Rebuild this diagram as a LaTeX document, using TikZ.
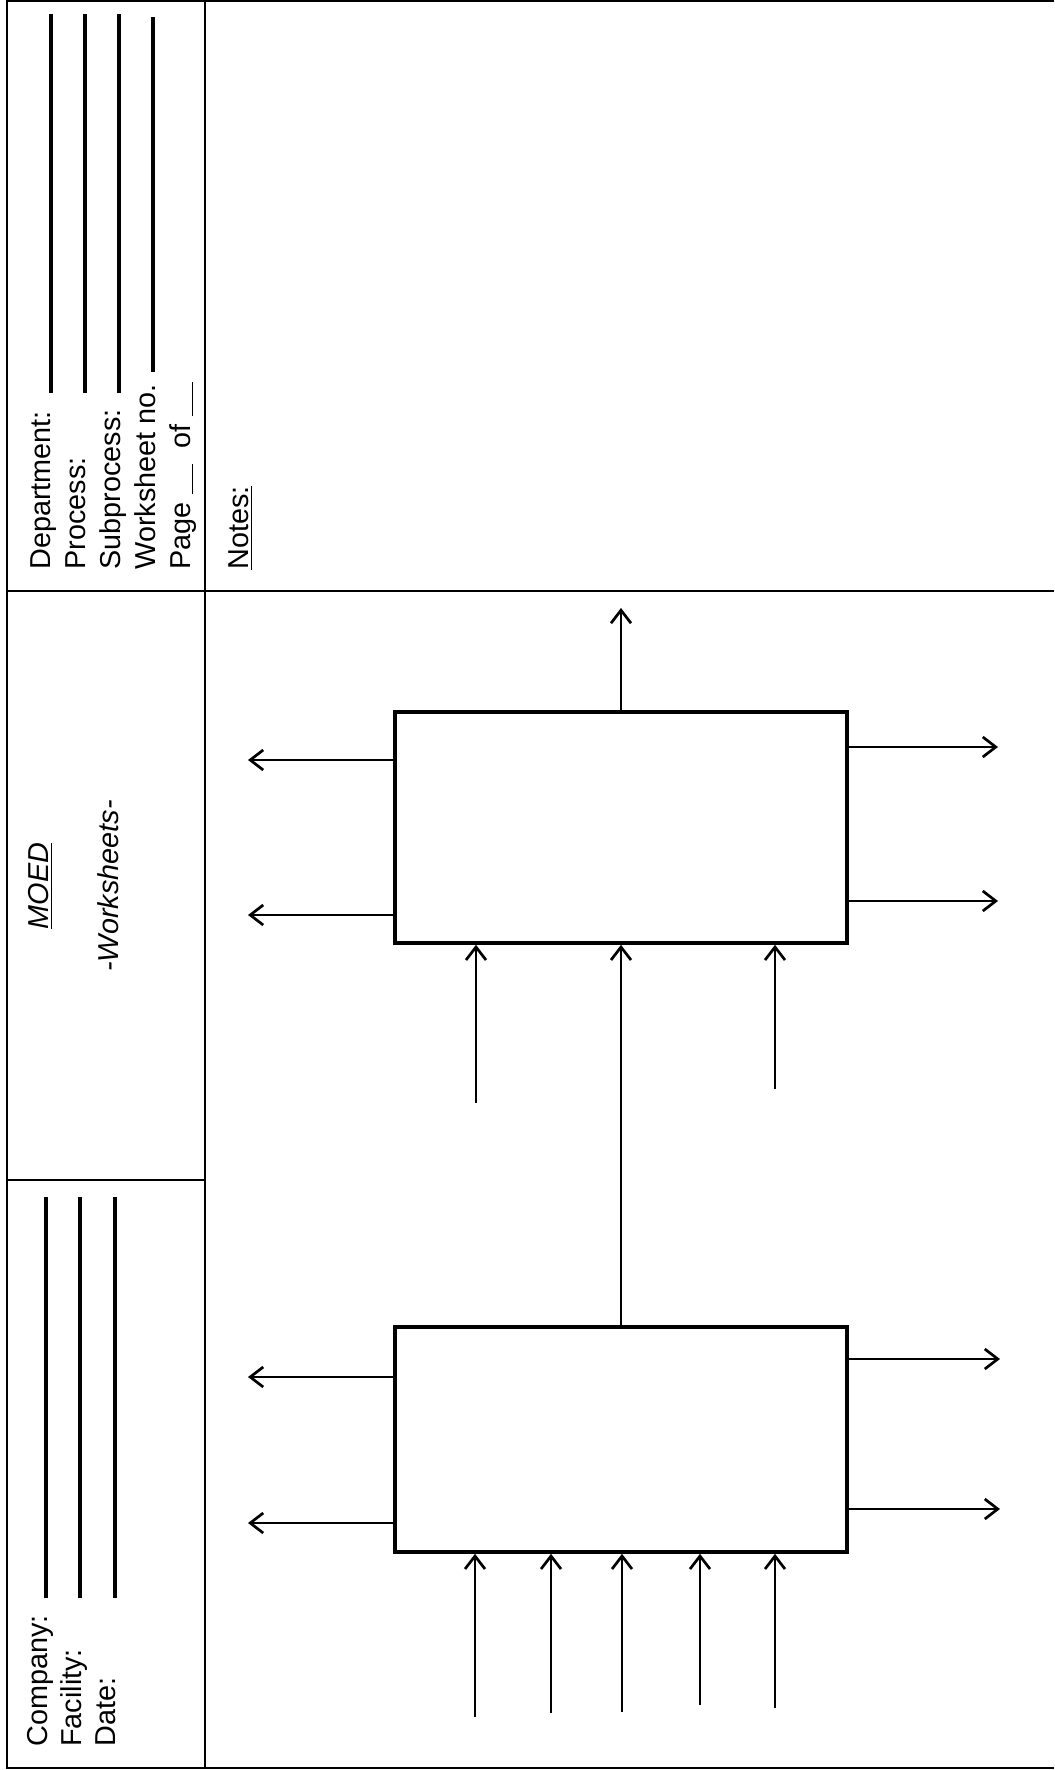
\documentclass[tikz,border=0pt]{standalone}
\usepackage{fontspec}
\setmainfont{Liberation Sans}
\usetikzlibrary{arrows.meta}
\begin{document}
\begin{tikzpicture}[x=0.5pt,y=-0.5pt,
  pageline/.style={line width=1pt},
  blankline/.style={line width=2pt},
  flow/.style={line width=1.35pt,-{Straight Barb[length=6.5pt,width=10pt]}},
  unitbox/.style={draw,line width=1.8pt,minimum width=226pt,inner sep=0pt},
  field/.style={rotate=90,anchor=base west,inner sep=0pt,font=\fontsize{14.4}{17}\selectfont}]
\useasboundingbox (0,0) rectangle (1054,1770);
\draw[pageline] (1054,1) -- (7,1) -- (7,1768) -- (1054,1768);
\draw[pageline] (205,1) -- (205,1768);
\draw[pageline] (7,591) -- (1054,591);
\draw[pageline] (7,1180) -- (205,1180);
\node[field] (dept) at (50,570) {Department:};
\node[field] (proc) at (85,570) {Process:};
\node[field] (subp) at (120,570) {Subprocess:};
\node[field] (wsno) at (155,570) {Worksheet no.};
\node[field] (page) at (190,570) {Page \underline{\hspace{15pt}}\ \ of \underline{\hspace{17pt}}};
\foreach \x in {51,85,119} \draw[blankline] (\x,393) -- (\x,14);
\draw[blankline] (153,372) -- (153,17);
\node[field,anchor=base] (moed) at (48,886) {\textit{\underline{MOED}}};
\node[field,anchor=base] (wsheets) at (118,886) {\textit{-Worksheets-}};
\node[field] (comp) at (47,1747) {Company:};
\node[field] (fac) at (81,1747) {Facility:};
\node[field] (date) at (115,1747) {Date:};
\foreach \x in {46,80,115} \draw[blankline] (\x,1598) -- (\x,1197);
\node[field] (notes) at (248,570) {\underline{Notes:}};
\node[unitbox,minimum height=115.5pt] (upper) at (621,827.5) {};
\node[unitbox,minimum height=112.5pt] (lower) at (621,1439.5) {};
\coordinate (out) at (621,608);
\draw[flow] (upper.north) -- (out);
\draw[flow] (lower.north) -- (upper.south);
\foreach \y [count=\i] in {760,915} {
  \coordinate (ul\i) at (248,\y);
  \draw[flow] (ul\i -| upper.west) -- (ul\i);
}
\foreach \y [count=\i] in {747,901} {
  \coordinate (ur\i) at (998,\y);
  \draw[flow] (ur\i -| upper.east) -- (ur\i);
}
\foreach \x/\y [count=\i] in {476/1103,775/1089} {
  \coordinate (ui\i) at (\x,\y);
  \draw[flow] (ui\i) -- (ui\i |- upper.south);
}
\foreach \y [count=\i] in {1377,1523} {
  \coordinate (ll\i) at (248,\y);
  \draw[flow] (ll\i -| lower.west) -- (ll\i);
}
\foreach \y [count=\i] in {1359,1509} {
  \coordinate (lr\i) at (1000,\y);
  \draw[flow] (lr\i -| lower.east) -- (lr\i);
}
\foreach \x/\y [count=\i] in {475/1717,551/1713,622/1712,700/1705,775/1708} {
  \coordinate (li\i) at (\x,\y);
  \draw[flow] (li\i) -- (li\i |- lower.south);
}
\end{tikzpicture}
\end{document}
